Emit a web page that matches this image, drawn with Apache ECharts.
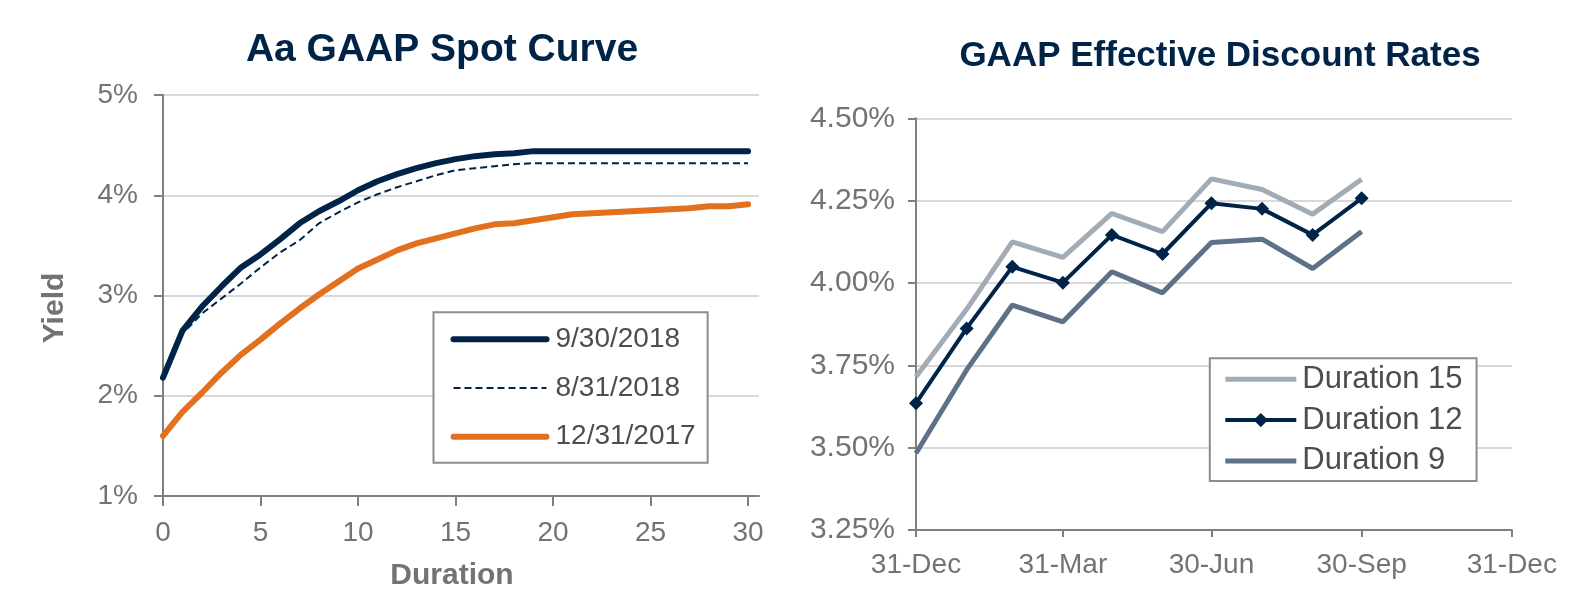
<!DOCTYPE html>
<html>
<head>
<meta charset="utf-8">
<script src="https://cdn.jsdelivr.net/npm/echarts@6/dist/echarts.min.js"></script>
<style>
  html, body { margin: 0; padding: 0; background: #ffffff; }
  #chart { width: 1596px; height: 604px; }
</style>
</head>
<body>
<div id="chart"></div>
<script>
// ---------- Left chart: Aa GAAP Spot Curve ----------
const durations = [0, 1, 2, 3, 4, 5, 6, 7, 8, 9, 10, 11, 12, 13, 14, 15, 16, 17, 18, 19, 20, 21, 22, 23, 24, 25, 26, 27, 28, 29, 30];
const spot20180930 = [2.18, 2.65, 2.89, 3.09, 3.28, 3.41, 3.56, 3.72, 3.84, 3.94, 4.05, 4.14, 4.21, 4.27, 4.32, 4.36, 4.39, 4.41, 4.42, 4.44, 4.44, 4.44, 4.44, 4.44, 4.44, 4.44, 4.44, 4.44, 4.44, 4.44, 4.44];
const spot20180831 = [2.18, 2.62, 2.82, 2.97, 3.12, 3.28, 3.43, 3.55, 3.72, 3.83, 3.93, 4.01, 4.08, 4.14, 4.20, 4.25, 4.27, 4.29, 4.31, 4.32, 4.32, 4.32, 4.32, 4.32, 4.32, 4.32, 4.32, 4.32, 4.32, 4.32, 4.32];
const spot20171231 = [1.60, 1.84, 2.03, 2.23, 2.41, 2.56, 2.72, 2.87, 3.01, 3.14, 3.27, 3.36, 3.45, 3.52, 3.57, 3.62, 3.67, 3.71, 3.72, 3.75, 3.78, 3.81, 3.82, 3.83, 3.84, 3.85, 3.86, 3.87, 3.89, 3.89, 3.91];
const durationTicks = [0, 5, 10, 15, 20, 25, 30];
const spotLegend = ['9/30/2018', '8/31/2018', '12/31/2017'];

// ---------- Right chart: GAAP Effective Discount Rates ----------
const rateDates = ['2017-12-31', '2018-01-31', '2018-02-28', '2018-03-31', '2018-04-30', '2018-05-31', '2018-06-30', '2018-07-31', '2018-08-31', '2018-09-30'];
const duration15 = [3.715, 3.920, 4.125, 4.078, 4.211, 4.156, 4.316, 4.284, 4.209, 4.315];
const duration12 = [3.635, 3.862, 4.049, 4.001, 4.146, 4.088, 4.242, 4.225, 4.146, 4.257];
const duration9  = [3.483, 3.736, 3.933, 3.882, 4.034, 3.970, 4.123, 4.133, 4.044, 4.156];
const dateTickDates = ['2017-12-31', '2018-03-31', '2018-06-30', '2018-09-30', '2018-12-31'];
const dateTickLabels = ['31-Dec', '31-Mar', '30-Jun', '30-Sep', '31-Dec'];
const rateLegend = ['Duration 15', 'Duration 12', 'Duration 9'];

// ---------- helpers ----------
const FONT = "'Liberation Sans', Arial, sans-serif";
const NAVY = '#002448';
const ORANGE = '#e3701f';
const LIGHT = '#a2acb6';
const SLATE = '#5f7189';
const AXIS_GRAY = '#7f7f7f';
const LABEL_GRAY = '#737373';
const GRID_GRAY = '#d9d9d9';
const NOFILL = 'rgba(0,0,0,0)';
const baseDay = Date.UTC(2017, 11, 31);
function dayOffset(s) {
  const p = s.split('-').map(Number);
  return Math.round((Date.UTC(p[0], p[1] - 1, p[2]) - baseDay) / 86400000);
}
const rateDays = rateDates.map(dayOffset);
const tickDays = dateTickDates.map(dayOffset);
const pair = (xs, ys) => xs.map((x, i) => [x, ys[i]]);

const chart = echarts.init(document.getElementById('chart'), null, { renderer: 'canvas' });

const option = {
  animation: false,
  backgroundColor: '#ffffff',
  title: [
    { text: 'Aa GAAP Spot Curve', left: 442, top: 31, textAlign: 'center', padding: 0,
      textStyle: { fontFamily: FONT, fontWeight: 'bold', fontSize: 39, color: NAVY } },
    { text: 'GAAP Effective Discount Rates', left: 1220, top: 39, textAlign: 'center', padding: 0,
      textStyle: { fontFamily: FONT, fontWeight: 'bold', fontSize: 35, color: NAVY } }
  ],
  grid: [
    { left: 163, top: 95, width: 596, height: 401, containLabel: false },
    { left: 916, top: 118.3, width: 595.8, height: 411.7, containLabel: false }
  ],
  xAxis: [
    { type: 'value', gridIndex: 0, min: 0, max: 30.56,
      axisLine: { show: true, onZero: false, lineStyle: { color: AXIS_GRAY, width: 2 } },
      axisTick: { show: true, length: 10, customValues: durationTicks, lineStyle: { color: AXIS_GRAY, width: 2 } },
      axisLabel: { customValues: durationTicks, margin: 23, fontFamily: FONT, fontSize: 28, color: LABEL_GRAY },
      splitLine: { show: false } },
    { type: 'value', gridIndex: 1, min: 0, max: 365,
      axisLine: { show: true, onZero: false, lineStyle: { color: AXIS_GRAY, width: 2 } },
      axisTick: { show: true, length: 7, customValues: tickDays, lineStyle: { color: AXIS_GRAY, width: 2 } },
      axisLabel: { customValues: tickDays, margin: 21, fontFamily: FONT, fontSize: 28, color: LABEL_GRAY,
        formatter: v => dateTickLabels[tickDays.indexOf(v)] },
      splitLine: { show: false } }
  ],
  yAxis: [
    { type: 'value', gridIndex: 0, min: 1, max: 5, interval: 1,
      axisLine: { show: true, onZero: false, lineStyle: { color: AXIS_GRAY, width: 2 } },
      axisTick: { show: true, length: 9, lineStyle: { color: AXIS_GRAY, width: 2 } },
      axisLabel: { margin: 25, fontFamily: FONT, fontSize: 28, color: LABEL_GRAY, formatter: v => v + '%' },
      splitLine: { show: true, lineStyle: { color: GRID_GRAY, width: 2 } } },
    { type: 'value', gridIndex: 1, min: 3.25, max: 4.5, interval: 0.25,
      axisLine: { show: true, onZero: false, lineStyle: { color: AXIS_GRAY, width: 2 } },
      axisTick: { show: true, length: 8, lineStyle: { color: AXIS_GRAY, width: 2 } },
      axisLabel: { margin: 21, fontFamily: FONT, fontSize: 30, color: LABEL_GRAY, formatter: v => v.toFixed(2) + '%' },
      splitLine: { show: true, lineStyle: { color: GRID_GRAY, width: 2 } } }
  ],
  legend: [
    { data: [
        { name: spotLegend[0], lineStyle: { width: 6, cap: 'round' }, itemStyle: { color: NOFILL, borderWidth: 0 } },
        { name: spotLegend[1], lineStyle: { width: 2, type: [7, 4] }, itemStyle: { color: NOFILL, borderWidth: 0 } },
        { name: spotLegend[2], lineStyle: { width: 6, cap: 'round' }, itemStyle: { color: NOFILL, borderWidth: 0 } }
      ],
      orient: 'vertical', left: 433.5, top: 312.3,
      padding: [10, 12, 9, 17], itemWidth: 93, itemHeight: 14, itemGap: 14.7,
      borderColor: '#8c8c8c', borderWidth: 2, backgroundColor: '#ffffff',
      selectedMode: false,
      textStyle: { fontFamily: FONT, fontSize: 28, color: '#4d4d4d', lineHeight: 34, padding: [0, 0, 0, 4] } },
    { data: [
        { name: rateLegend[0], lineStyle: { width: 5 }, itemStyle: { color: NOFILL, borderWidth: 0 } },
        { name: rateLegend[1], lineStyle: { width: 4 } },
        { name: rateLegend[2], lineStyle: { width: 5 }, itemStyle: { color: NOFILL, borderWidth: 0 } }
      ],
      orient: 'vertical', left: 1209.8, top: 358.3,
      padding: [4, 14, 3, 13], itemWidth: 71, itemHeight: 18, itemGap: 6.8,
      borderColor: '#8c8c8c', borderWidth: 2, backgroundColor: '#ffffff',
      selectedMode: false,
      textStyle: { fontFamily: FONT, fontSize: 31, color: '#4d4d4d', lineHeight: 34, padding: [0, 0, 0, 1] } }
  ],
  graphic: [
    { type: 'text', x: 55, y: 308, rotation: Math.PI / 2,
      style: { text: 'Yield', fontFamily: FONT, fontWeight: 'bold', fontSize: 30, fill: LABEL_GRAY,
        textAlign: 'center', textVerticalAlign: 'middle' } },
    { type: 'text', x: 452, y: 576,
      style: { text: 'Duration', fontFamily: FONT, fontWeight: 'bold', fontSize: 30, fill: LABEL_GRAY,
        textAlign: 'center', textVerticalAlign: 'middle' } }
  ],
  series: [
    { name: '12/31/2017', type: 'line', xAxisIndex: 0, yAxisIndex: 0, data: pair(durations, spot20171231),
      symbol: 'none', silent: true, z: 2,
      lineStyle: { color: ORANGE, width: 6, cap: 'round', join: 'round' }, itemStyle: { color: ORANGE } },
    { name: '8/31/2018', type: 'line', xAxisIndex: 0, yAxisIndex: 0, data: pair(durations, spot20180831),
      symbol: 'none', silent: true, z: 3,
      lineStyle: { color: NAVY, width: 2, type: [7, 4] }, itemStyle: { color: NAVY } },
    { name: '9/30/2018', type: 'line', xAxisIndex: 0, yAxisIndex: 0, data: pair(durations, spot20180930),
      symbol: 'none', silent: true, z: 4,
      lineStyle: { color: NAVY, width: 6, cap: 'round', join: 'round' }, itemStyle: { color: NAVY } },

    { name: 'Duration 15', type: 'line', xAxisIndex: 1, yAxisIndex: 1, data: pair(rateDays, duration15),
      symbol: 'none', silent: true, z: 2,
      lineStyle: { color: LIGHT, width: 5 }, itemStyle: { color: LIGHT } },
    { name: 'Duration 9', type: 'line', xAxisIndex: 1, yAxisIndex: 1, data: pair(rateDays, duration9),
      symbol: 'none', silent: true, z: 2,
      lineStyle: { color: SLATE, width: 5 }, itemStyle: { color: SLATE } },
    { name: 'Duration 12', type: 'line', xAxisIndex: 1, yAxisIndex: 1, data: pair(rateDays, duration12),
      symbol: 'diamond', symbolSize: 14, showSymbol: true, silent: true, z: 4,
      lineStyle: { color: NAVY, width: 4 }, itemStyle: { color: NAVY } }
  ]
};
chart.setOption(option);
</script>
</body>
</html>
